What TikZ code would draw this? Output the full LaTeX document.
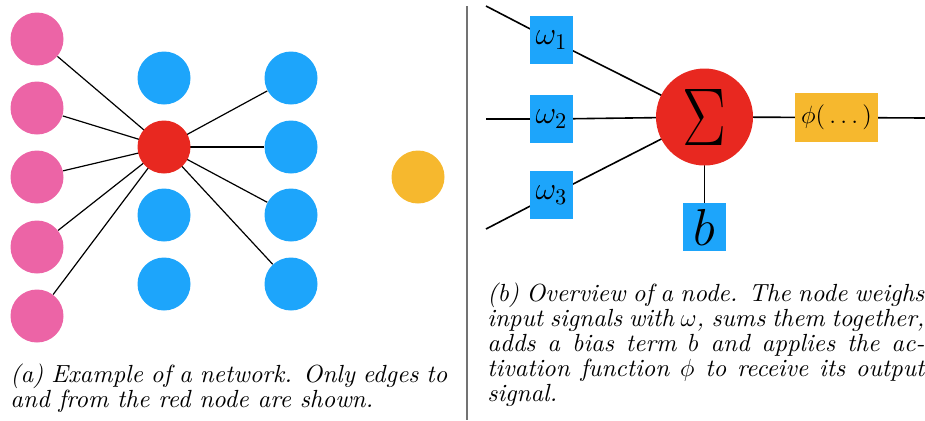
\documentclass[tikz,border=0pt]{standalone}
\usepackage{fix-cm}
\usepackage{fontspec}
\usepackage{graphicx}
\usetikzlibrary{backgrounds}
\newfontfamily\capfont{lmroman10-italic.otf}
\definecolor{netpink}{RGB}{236,100,166}
\definecolor{netblue}{RGB}{29,165,251}
\definecolor{netred}{RGB}{232,40,32}
\definecolor{netyellow}{RGB}{246,184,46}

\begin{document}
\begin{tikzpicture}[x=0.5pt, y=-0.5pt,
    neuron/.style={circle, minimum size=26.5pt, inner sep=0pt},
    weightbox/.style={fill=netblue, minimum width=21.5pt, minimum height=24pt, inner sep=0pt, font=\fontsize{16}{18}\selectfont},
    caption/.style={anchor=north west, inner sep=0pt, text width=218.5pt, align=justify, font=\capfont\fontsize{12.4}{12.6}\selectfont}]
        \useasboundingbox (0,0) rectangle (925,420);

        %network
        \foreach \i/\yy in {1/39, 2/108, 3/177, 4/247, 5/316}
            \node[neuron, fill=netpink] (p\i) at (37,\yy) {};
        \node[neuron, fill=netblue] (h1) at (164,78) {};
        \node[neuron, fill=netred] (r) at (164,147) {};
        \node[neuron, fill=netblue] (h3) at (164,215) {};
        \node[neuron, fill=netblue] (h4) at (164,284) {};
        \foreach \i/\yy in {1/78, 2/147, 3/215, 4/284}
            \node[neuron, fill=netblue] (g\i) at (291,\yy) {};
        \node[neuron, fill=netyellow] (o) at (418,177) {};
        \begin{scope}[on background layer]
            \foreach \i in {1,...,5}
                \draw[line width=0.6pt] (r.center) -- (p\i);
            \foreach \i in {1,...,4}
                \draw[line width=0.6pt] (r.center) -- (g\i);
        \end{scope}

        \draw[black!55, line width=1pt] (467,6) -- (467,420);

        %single node
        \node[weightbox] (w1) at (551.5,40) {$\omega_1$};
        \node[weightbox] (w2) at (551.5,119) {$\omega_2$};
        \node[weightbox] (w3) at (551.5,195) {$\omega_3$};
        \node[circle, fill=netred, minimum size=48.5pt, inner sep=0pt] (sum) at (704.5,117) {\fontsize{41}{41}\selectfont\scalebox{0.8}[1]{$\Sigma$}};
        \node[weightbox, font=\fontsize{26}{28}\selectfont] (b) at (704.5,227) {$b$};
        \node[fill=netyellow, minimum width=41.5pt, minimum height=24.5pt, inner sep=0pt, font=\fontsize{12.5}{14}\selectfont] (phi) at (836.5,117.5) {$\phi(\,\dots\,)$};
        \coordinate (in1) at (486,6);
        \coordinate (in2) at (486,119);
        \coordinate (in3) at (486,229);
        \coordinate (out) at (925,118);
        \begin{scope}[on background layer]
            \draw[line width=0.8pt] (in1) -- (w1.center) -- (sum.center);
            \draw[line width=0.8pt] (in2) -- (w2.center) -- (sum.center);
            \draw[line width=0.8pt] (in3) -- (w3.center) -- (sum.center);
            \draw[line width=0.8pt] (sum.center) -- (b.center);
            \draw[line width=0.8pt] (sum.center) -- (phi.center) -- (out);
        \end{scope}

        %captions
        \node[caption] (capa) at (10,363) {(a) Example of a network. Only edges to\linebreak and from the red node are shown.\par};
        \node[caption] (capb) at (487,282) {(b) Overview of a node. The node weighs\linebreak input signals with $\omega$, sums them together,\linebreak adds a bias term $b$ and applies the ac-\linebreak tivation function $\phi$ to receive its output\linebreak signal.\par};
    \end{tikzpicture}
\end{document}
